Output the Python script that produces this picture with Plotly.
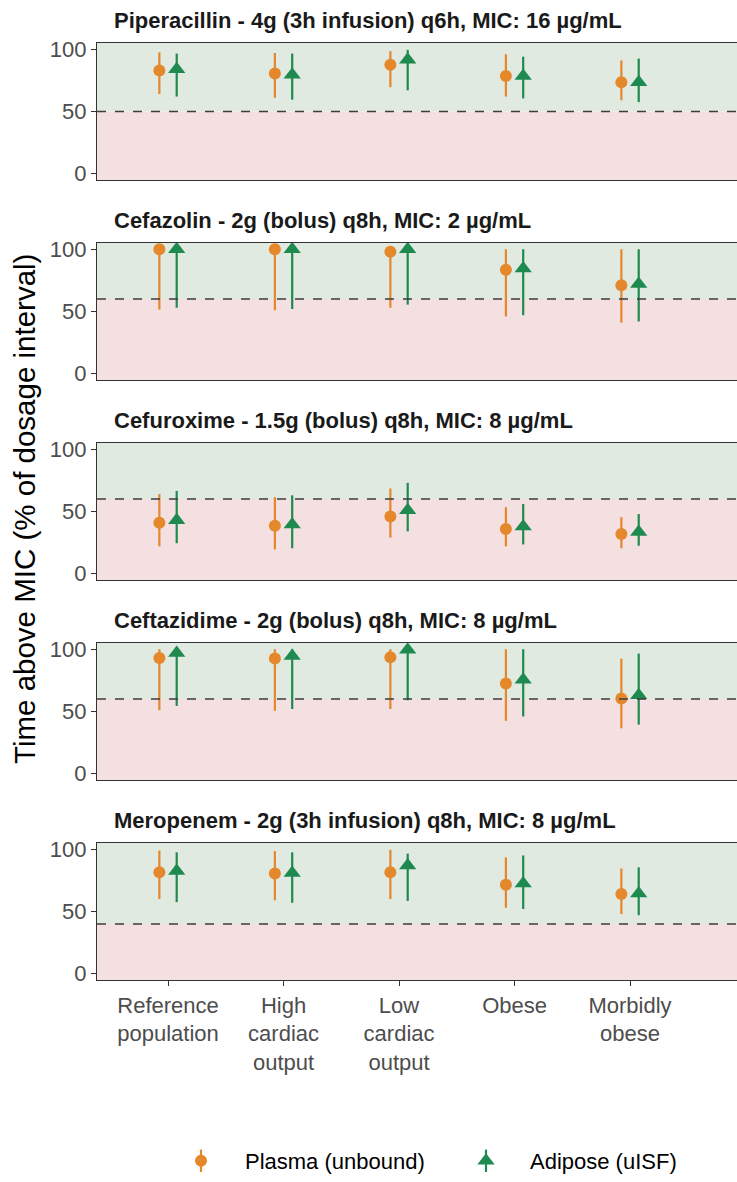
import plotly.graph_objects as go

categories = ["Reference<br>population", "High<br>cardiac<br>output", "Low<br>cardiac<br>output", "Obese", "Morbidly<br>obese"]
drug_titles = [
    "Piperacillin - 4g (3h infusion) q6h, MIC: 16 µg/mL",
    "Cefazolin - 2g (bolus) q8h, MIC: 2 µg/mL",
    "Cefuroxime - 1.5g (bolus) q8h, MIC: 8 µg/mL",
    "Ceftazidime - 2g (bolus) q8h, MIC: 8 µg/mL",
    "Meropenem - 2g (3h infusion) q8h, MIC: 8 µg/mL",
]
targets = [50, 60, 60, 60, 40]

plasma_mid = [
    [83, 80.5, 87.5, 78.5, 73.5],
    [100, 100, 98, 83.5, 71],
    [41, 38.5, 46, 36, 32],
    [93, 92.5, 93.5, 72.5, 60.5],
    [81.5, 80.5, 81.5, 71.5, 64],
]
plasma_lo = [
    [64, 61, 69.5, 62, 59],
    [51.5, 51, 53, 46, 41],
    [22, 19.5, 29, 22, 20.5],
    [51, 50.5, 52, 42.5, 36.5],
    [60, 59, 60, 53, 48],
]
plasma_hi = [
    [97.5, 97, 98.5, 96, 91],
    [100, 100, 100, 100, 100],
    [64, 61.5, 68.5, 53.5, 45.5],
    [100, 100, 100, 100, 92.5],
    [99, 98.5, 99.5, 93.5, 84.5],
]
adipose_mid = [
    [84, 79.5, 91.5, 78.5, 73.5],
    [100, 100, 100, 84.5, 72],
    [43, 39.5, 51, 38, 33.5],
    [97, 94.5, 99.5, 75.5, 63],
    [82.5, 81, 87, 72.5, 64.5],
]
adipose_lo = [
    [62, 59.5, 67, 60.5, 57.5],
    [53, 52, 55.5, 47, 42],
    [24.5, 20.5, 34, 23.5, 22.5],
    [54.5, 52, 59, 46, 39.5],
    [57.5, 57, 58.5, 52, 47],
]
adipose_hi = [
    [96.5, 96.5, 99.5, 94, 92.5],
    [100, 100, 100, 100, 100],
    [66.5, 63, 73, 56, 48],
    [100, 100, 100, 100, 96.5],
    [97.5, 97.5, 96.5, 95, 85.5],
]

PLASMA_COLOR = "#E5872B"
ADIPOSE_COLOR = "#1E8A50"
GREEN_BG = "#E0EAE1"
RED_BG = "#F5E0E1"
FONT = "Liberation Sans, Arial, sans-serif"

W, H = 737, 1182
M_T, M_B, M_L, M_R = 43, 202, 97, 0
PW = W - M_L - M_R
PH = H - M_T - M_B
panel_h = 137
panel_step = 200
dodge = 0.075


def px_x(px):
    return (px - M_L) / PW


def px_y(py):
    return (PH - (py - M_T)) / PH


fig = go.Figure()
x_pos = list(range(1, len(categories) + 1))

layout_axes = {}
shapes = []
annotations = []
for k in range(len(drug_titles)):
    xa = "x" if k == 0 else f"x{k+1}"
    ya = "y" if k == 0 else f"y{k+1}"
    top_px = M_T + k * panel_step
    bot_px = top_px + panel_h
    dom = [max(0, px_y(bot_px)), min(1, px_y(top_px))]
    last = k == len(drug_titles) - 1

    pm, pl, ph = plasma_mid[k], plasma_lo[k], plasma_hi[k]
    am, al, ah = adipose_mid[k], adipose_lo[k], adipose_hi[k]
    fig.add_trace(go.Scatter(
        x=[x - dodge for x in x_pos], y=pm, mode="markers",
        name="Plasma (unbound)", legend="legend", showlegend=(k == 0),
        marker=dict(symbol="circle", size=12, color=PLASMA_COLOR),
        error_y=dict(type="data", symmetric=False,
                     array=[h - m for h, m in zip(ph, pm)],
                     arrayminus=[m - l for m, l in zip(pm, pl)],
                     width=0, thickness=2.2, color=PLASMA_COLOR),
        xaxis=xa, yaxis=ya, cliponaxis=False,
    ))
    fig.add_trace(go.Scatter(
        x=[x + dodge for x in x_pos], y=am, mode="markers",
        name="Adipose (uISF)", legend="legend2", showlegend=(k == 0),
        marker=dict(symbol="triangle-up", size=15, color=ADIPOSE_COLOR),
        error_y=dict(type="data", symmetric=False,
                     array=[h - m for h, m in zip(ah, am)],
                     arrayminus=[m - l for m, l in zip(am, al)],
                     width=0, thickness=2.2, color=ADIPOSE_COLOR),
        xaxis=xa, yaxis=ya, cliponaxis=False,
    ))

    xkey = "xaxis" if k == 0 else f"xaxis{k+1}"
    ykey = "yaxis" if k == 0 else f"yaxis{k+1}"
    layout_axes[xkey] = dict(
        domain=[0, 1], anchor=ya, range=[0.385, 5.926],
        tickvals=x_pos if last else [], ticktext=categories if last else [],
        ticks="outside" if last else "", ticklen=5, tickwidth=1.2, tickcolor="#333333",
        showline=True, mirror=True, linecolor="#333333", linewidth=1.2,
        showgrid=False, zeroline=False, fixedrange=True,
        tickfont=dict(family=FONT, size=22, color="#4D4D4D"),
    )
    layout_axes[ykey] = dict(
        domain=dom, anchor=xa, range=[-5, 105],
        tickvals=[0, 50, 100], ticks="outside", ticklen=5, tickwidth=1.2,
        tickcolor="#333333", showline=True, linecolor="#333333", linewidth=1.2,
        showgrid=False, zeroline=False, fixedrange=True,
        tickfont=dict(family=FONT, size=22, color="#4D4D4D"),
    )
    shapes.append(dict(type="rect", xref=f"{xa} domain", yref=ya, x0=0, x1=1,
                       y0=targets[k], y1=105, fillcolor=GREEN_BG, line_width=0, layer="below"))
    shapes.append(dict(type="rect", xref=f"{xa} domain", yref=ya, x0=0, x1=1,
                       y0=-5, y1=targets[k], fillcolor=RED_BG, line_width=0, layer="below"))
    shapes.append(dict(type="line", xref=f"{xa} domain", yref=ya, x0=0, x1=1,
                       y0=targets[k], y1=targets[k],
                       line=dict(color="#3D3D3D", width=1.6, dash="dash"), layer="above"))
    annotations.append(dict(
        text=f"<b>{drug_titles[k]}</b>", xref="paper", yref="paper",
        x=px_x(112), y=px_y(top_px - 23),
        xanchor="left", yanchor="middle", showarrow=False,
        font=dict(family=FONT, size=22, color="#1A1A1A"),
    ))

# legend-only vertical bars (error-bar glyphs) drawn at the legend symbols
fig.add_trace(go.Scatter(x=[None], y=[None], mode="markers", name=" ", legend="legend3",
                         marker=dict(symbol="line-ns-open", size=16, color=PLASMA_COLOR,
                                     line=dict(color=PLASMA_COLOR, width=2.2)),
                         hoverinfo="skip"))
fig.add_trace(go.Scatter(x=[None], y=[None], mode="markers", name=" ", legend="legend4",
                         marker=dict(symbol="line-ns-open", size=16, color=ADIPOSE_COLOR,
                                     line=dict(color=ADIPOSE_COLOR, width=2.2)),
                         hoverinfo="skip"))

annotations.append(dict(
    text="Time above MIC (% of dosage interval)", xref="paper", yref="paper",
    x=px_x(24), y=px_y(509),
    xanchor="center", yanchor="middle", textangle=-90, showarrow=False,
    font=dict(family=FONT, size=29.5, color="#000000"),
))

leg_common = dict(orientation="h", xanchor="left", yanchor="middle",
                  y=px_y(1161), font=dict(family=FONT, size=22, color="#000000"),
                  bgcolor="rgba(0,0,0,0)", itemwidth=78)

fig.update_layout(
    width=W, height=H,
    margin=dict(t=M_T, b=M_B, l=M_L, r=M_R),
    paper_bgcolor="white", plot_bgcolor="rgba(0,0,0,0)",
    showlegend=True,
    legend3=dict(leg_common, x=px_x(157)),
    legend4=dict(leg_common, x=px_x(442)),
    legend=dict(leg_common, x=px_x(157)),
    legend2=dict(leg_common, x=px_x(442)),
    shapes=shapes, annotations=annotations,
    **layout_axes,
)

fig.write_html("out.html")
